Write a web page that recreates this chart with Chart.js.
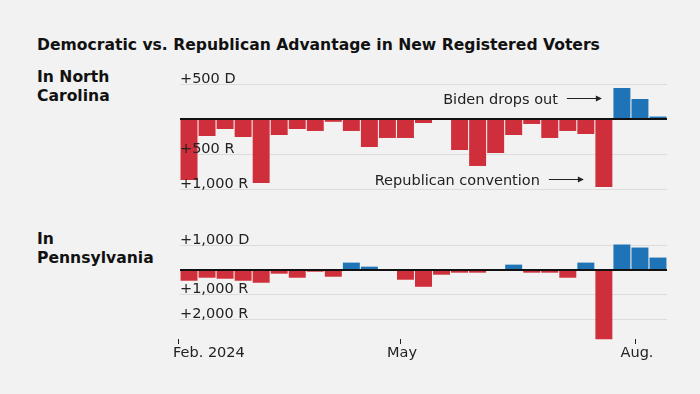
<!DOCTYPE html>
<html>
<head>
<meta charset="utf-8">
<script src="https://cdn.jsdelivr.net/npm/chart.js@4.4.1/dist/chart.umd.min.js"></script>
<style>
  html, body { margin: 0; padding: 0; background: #f2f2f2; }
  #wrap { position: relative; width: 700px; height: 394px; background: #f2f2f2; overflow: hidden; }
  .title, .state { position: absolute; left: 37px; font-family: "DejaVu Sans", sans-serif; font-weight: bold; color: #111; font-size: 15.6px; line-height: 18.5px; white-space: nowrap; }
  canvas { position: absolute; left: 0; }
</style>
</head>
<body>
<div id="wrap">
  <div class="title" style="top:36px;">Democratic vs. Republican Advantage in New Registered Voters</div>
  <div class="state" style="top:68px;">In North<br>Carolina</div>
  <div class="state" style="top:230px;">In<br>Pennsylvania</div>
  <canvas id="ncChart" width="700" height="140" style="top:60px;"></canvas>
  <canvas id="paChart" width="700" height="145" style="top:225px;"></canvas>
</div>
<script>
// weekly net advantage in new registrations, Feb. to early Aug. 2024 (+ = Democratic, - = Republican)
const ncValues = [-870, -243, -143, -257, -914, -229, -143, -171, -40, -171, -400, -271, -271, -57,
                  0, -443, -671, -486, -229, -71, -271, -171, -214, -971, 443, 286, 35];
const paValues = [-449, -327, -367, -449, -530, -163, -327, -82, -286, 286, 122, 0, -408, -694,
                  -204, -122, -122, 20, 204, -122, -122, -327, 286, -2816, 1020, 898, 490];

const ncTicks = [500, -500, -1000];
const ncTickLabels = ['+500 D', '+500 R', '+1,000 R'];
const paTicks = [1000, -1000, -2000];
const paTickLabels = ['+1,000 D', '+1,000 R', '+2,000 R'];

// month marks, measured in weeks from the first bar
const monthTicks = [0, 12.33, 25.33];
const monthLabels = ['Feb. 2024', 'May', 'Aug.'];

const RED = '#cf2f3a';
const BLUE = '#1f74b8';

// draws zero line, tick labels, notes and month axis on top of the bars
const overlay = {
    id: 'overlay',
    afterDatasetsDraw(chart, args, opts) {
        const { ctx, chartArea } = chart;
        const x = chart.scales.x;
        const y = chart.scales.y;
        ctx.save();

        const y0 = Math.round(y.getPixelForValue(0));
        ctx.fillStyle = '#111';
        ctx.fillRect(chartArea.left, y0 - 1, chartArea.right - chartArea.left, 2);

        ctx.font = '14.5px "DejaVu Sans"';
        ctx.fillStyle = '#222';
        ctx.textAlign = 'left';
        ctx.textBaseline = 'alphabetic';
        opts.ticks.forEach((v, i) => {
            ctx.fillText(opts.labels[i], chartArea.left, y.getPixelForValue(v) - 1);
        });

        (opts.notes || []).forEach(n => {
            const end = x.getPixelForValue(n.bar) - 11;
            const start = end - 35;
            const yy = Math.round(y.getPixelForValue(n.value)) + 0.5;
            ctx.strokeStyle = '#222';
            ctx.lineWidth = 1;
            ctx.beginPath();
            ctx.moveTo(start, yy);
            ctx.lineTo(end - 5, yy);
            ctx.stroke();
            ctx.fillStyle = '#222';
            ctx.beginPath();
            ctx.moveTo(end, yy);
            ctx.lineTo(end - 6, yy - 3);
            ctx.lineTo(end - 6, yy + 3);
            ctx.closePath();
            ctx.fill();
            ctx.textAlign = 'right';
            ctx.fillText(n.text, start - 9, yy + 5);
        });

        if (opts.months) {
            ctx.fillStyle = '#222';
            monthTicks.forEach((t, i) => {
                const px = Math.round(x.getPixelForValue(t));
                ctx.fillRect(px - 2, chartArea.bottom + 20, 1, 5);
                ctx.textAlign = i === 0 ? 'left' : 'center';
                ctx.fillText(monthLabels[i], i === 0 ? px - 7 : px, chartArea.bottom + 38);
            });
        }
        ctx.restore();
    }
};

function makeChart(id, values, yMin, yMax, ticks, labels, pad, notes, months) {
    const ctx = document.getElementById(id).getContext('2d');
    return new Chart(ctx, {
        type: 'bar',
        data: {
            datasets: [{
                data: values.map((v, i) => ({ x: i + 0.5, y: v })),
                backgroundColor: c => (c.raw && c.raw.y >= 0 ? BLUE : RED),
                borderWidth: 0,
                barPercentage: 0.94,
                categoryPercentage: 1,
                clip: false
            }]
        },
        options: {
            responsive: false,
            animation: false,
            devicePixelRatio: 1,
            layout: { padding: pad },
            plugins: {
                legend: { display: false },
                tooltip: { enabled: false },
                overlay: { ticks: ticks, labels: labels, notes: notes, months: months }
            },
            scales: {
                x: { type: 'linear', min: 0, max: 27, offset: false, display: false },
                y: {
                    min: yMin,
                    max: yMax,
                    afterBuildTicks: s => { s.ticks = ticks.concat([0]).map(v => ({ value: v })); },
                    ticks: { display: false },
                    border: { display: false },
                    grid: {
                        drawTicks: false,
                        color: c => (c.tick && c.tick.value === 0 ? 'rgba(0,0,0,0)' : '#dcdcdc'),
                        lineWidth: 1
                    }
                }
            }
        },
        plugins: [overlay]
    });
}

makeChart('ncChart', ncValues, -1000, 500, ncTicks, ncTickLabels,
    { left: 180, right: 33, top: 24, bottom: 11 },
    [{ bar: 24, value: 300, text: 'Biden drops out' },
     { bar: 23, value: -857, text: 'Republican convention' }],
    false);

makeChart('paChart', paValues, -2000, 1000, paTicks, paTickLabels,
    { left: 180, right: 33, top: 20, bottom: 51 },
    [], true);
</script>
</body>
</html>
